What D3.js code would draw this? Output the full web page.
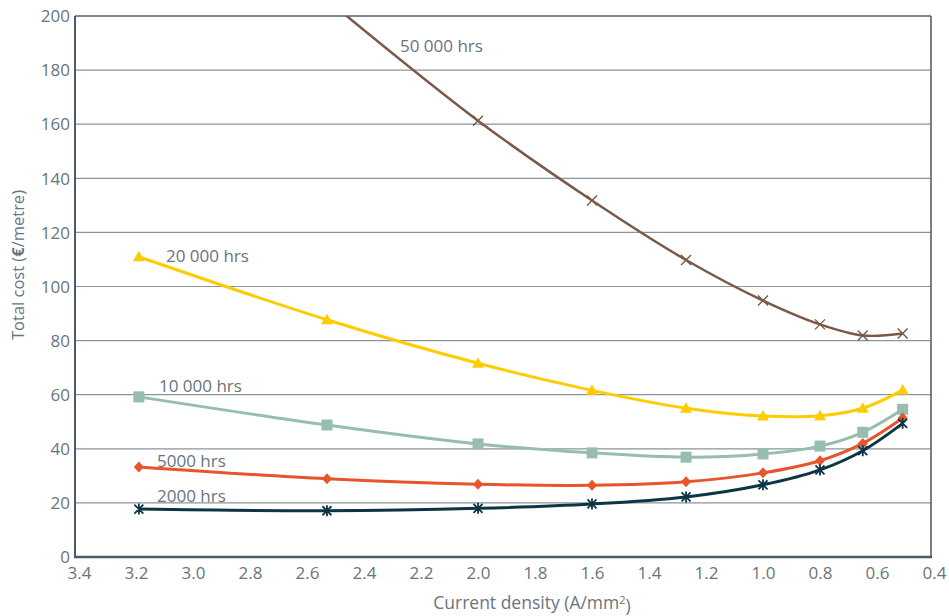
<!DOCTYPE html>
<html>
<head>
<meta charset="utf-8">
<script src="https://cdn.jsdelivr.net/npm/d3@7"></script>
<style>
  html, body { margin: 0; padding: 0; background: #fff; }
  svg { display: block; }
  text { font-family: "Open Sans", "Noto Sans", sans-serif; font-weight: 400; fill: #6a747c; }
</style>
</head>
<body>
<svg id="chart" width="949" height="616"></svg>
<script>
// ---- data ----
const xTicks = [3.4, 3.2, 3.0, 2.8, 2.6, 2.4, 2.2, 2.0, 1.8, 1.6, 1.4, 1.2, 1.0, 0.8, 0.6, 0.4];
const yTicks = [0, 20, 40, 60, 80, 100, 120, 140, 160, 180, 200];
const density = [3.19, 2.53, 2.0, 1.6, 1.27, 1.0, 0.8, 0.65, 0.51];

const hrs2000  = [17.7, 17.1, 18.0, 19.6, 22.2, 26.7, 32.2, 39.3, 49.4];
const hrs5000  = [33.3, 28.9, 26.9, 26.5, 27.8, 31.1, 35.6, 42.0, 51.4];
const hrs10000 = [59.2, 48.8, 41.8, 38.5, 36.9, 38.1, 41.0, 46.1, 54.6];
const hrs20000 = [111.0, 87.7, 71.6, 61.6, 55.0, 52.1, 52.2, 55.0, 61.7];
const hrs50000 = [null, 206.0, 161.3, 131.8, 109.8, 94.8, 86.0, 81.9, 82.6];

const seriesNames = ["2000 hrs", "5000 hrs", "10 000 hrs", "20 000 hrs", "50 000 hrs"];

// ---- styles ----
const series = [
  { name: seriesNames[0], values: hrs2000,  color: "#0c3546", marker: "asterisk", width: 3,   label: [157, 502] },
  { name: seriesNames[1], values: hrs5000,  color: "#e6552b", marker: "diamond",  width: 3,   label: [157, 467] },
  { name: seriesNames[2], values: hrs10000, color: "#97bcb0", marker: "square",   width: 3,   label: [159, 392] },
  { name: seriesNames[3], values: hrs20000, color: "#ffcc00", marker: "triangle", width: 3,   label: [166, 262] },
  { name: seriesNames[4], values: hrs50000, color: "#7b5949", marker: "cross",    width: 2.5, label: [400, 52] }
];

const svg = d3.select("#chart");
const frame = { left: 75, right: 931, top: 16, bottom: 557 };

const x = d3.scaleLinear().domain([3.4, 0.4]).range([79, 934]);
const y = d3.scaleLinear().domain([0, 200]).range([frame.bottom, frame.top]);

// clip
svg.append("defs").append("clipPath").attr("id", "clip")
  .append("rect").attr("x", frame.left).attr("y", frame.top)
  .attr("width", frame.right - frame.left).attr("height", frame.bottom - frame.top);

// gridlines
svg.append("g").selectAll("line").data(yTicks.filter(d => d > 0 && d < 200)).join("line")
  .attr("x1", frame.left).attr("x2", frame.right)
  .attr("y1", d => y(d)).attr("y2", d => y(d))
  .attr("stroke", "#8a949b").attr("stroke-width", 1.2);

// frame
svg.append("line").attr("x1", frame.left).attr("x2", frame.right).attr("y1", frame.top).attr("y2", frame.top)
  .attr("stroke", "#56616a").attr("stroke-width", 1.6);
svg.append("line").attr("x1", frame.right).attr("x2", frame.right).attr("y1", frame.top).attr("y2", frame.bottom)
  .attr("stroke", "#56616a").attr("stroke-width", 1.6);

// y axis labels
const yAxis = d3.axisLeft(y).tickValues(yTicks).tickSize(0).tickPadding(5).tickFormat(d3.format("d"));
const gy = svg.append("g").attr("transform", `translate(${frame.left},0)`).call(yAxis);
gy.select(".domain").remove();
gy.selectAll("text").style("font-size", "17px").attr("fill", "#6a747c").attr("dy", "0.34em");

// x axis labels
const xAxis = d3.axisBottom(x).tickValues(xTicks).tickSize(0).tickPadding(10).tickFormat(d3.format(".1f"));
const gx = svg.append("g").attr("transform", `translate(0,${frame.bottom})`).call(xAxis);
gx.select(".domain").remove();
gx.selectAll("text").style("font-size", "17px").attr("fill", "#6a747c");

// axis lines (left, bottom)
svg.append("line").attr("x1", frame.left).attr("x2", frame.left).attr("y1", frame.top).attr("y2", frame.bottom + 1)
  .attr("stroke", "#4f5a63").attr("stroke-width", 2);
svg.append("line").attr("x1", frame.left - 1).attr("x2", frame.right + 1).attr("y1", frame.bottom).attr("y2", frame.bottom)
  .attr("stroke", "#4f5a63").attr("stroke-width", 2.4);

// lines
const line = d3.line()
  .defined(d => d.v != null)
  .x(d => x(d.x)).y(d => y(d.v))
  .curve(d3.curveCatmullRom.alpha(0.5));

const plot = svg.append("g").attr("clip-path", "url(#clip)");

series.slice().reverse().forEach(s => {
  const pts = density.map((dx, i) => ({ x: dx, v: s.values[i] }));
  plot.append("path").datum(pts)
    .attr("d", line).attr("fill", "none")
    .attr("stroke", s.color).attr("stroke-width", s.width)
    .attr("stroke-linejoin", "round");

  const valid = pts.filter(p => p.v != null && p.v <= 200);
  const g = plot.append("g");
  valid.forEach(p => {
    const cx = x(p.x), cy = y(p.v);
    if (s.marker === "square") {
      g.append("rect").attr("x", cx - 5.5).attr("y", cy - 5.5).attr("width", 11).attr("height", 11).attr("fill", s.color);
    } else if (s.marker === "diamond") {
      g.append("path").attr("d", `M${cx},${cy-5.5}L${cx+5},${cy}L${cx},${cy+5.5}L${cx-5},${cy}Z`).attr("fill", s.color);
    } else if (s.marker === "triangle") {
      g.append("path").attr("d", `M${cx},${cy-6}L${cx+6},${cy+4.5}L${cx-6},${cy+4.5}Z`).attr("fill", s.color);
    } else if (s.marker === "asterisk") {
      g.append("path").attr("d", `M${cx-4.5},${cy-4.5}L${cx+4.5},${cy+4.5}M${cx-4.5},${cy+4.5}L${cx+4.5},${cy-4.5}M${cx},${cy-5.5}L${cx},${cy+5.5}`)
        .attr("stroke", s.color).attr("stroke-width", 1.8).attr("fill", "none");
    } else if (s.marker === "cross") {
      g.append("path").attr("d", `M${cx-5},${cy-5}L${cx+5},${cy+5}M${cx-5},${cy+5}L${cx+5},${cy-5}`)
        .attr("stroke", s.color).attr("stroke-width", 1.4).attr("fill", "none");
    }
  });
});

// series labels
series.forEach(s => {
  svg.append("text").attr("x", s.label[0]).attr("y", s.label[1])
    .style("font-size", "17px").attr("fill", "#6a747c").text(s.name);
});

// axis titles
const yt = svg.append("text")
  .attr("transform", "translate(24,265) rotate(-90)")
  .attr("text-anchor", "middle").style("font-size", "16.5px");
yt.append("tspan").text("Total cost (");
yt.append("tspan").text("€").style("font-weight", "700");
yt.append("tspan").text("/metre)");

const xt = svg.append("text")
  .attr("x", 532).attr("y", 609).attr("text-anchor", "middle").style("font-size", "17.5px");
xt.append("tspan").text("Current density (A/mm");
xt.append("tspan").text("2").attr("dy", "-0.45em").style("font-size", "11px");
xt.append("tspan").text(")").attr("dy", "0.45em");
</script>
</body>
</html>
